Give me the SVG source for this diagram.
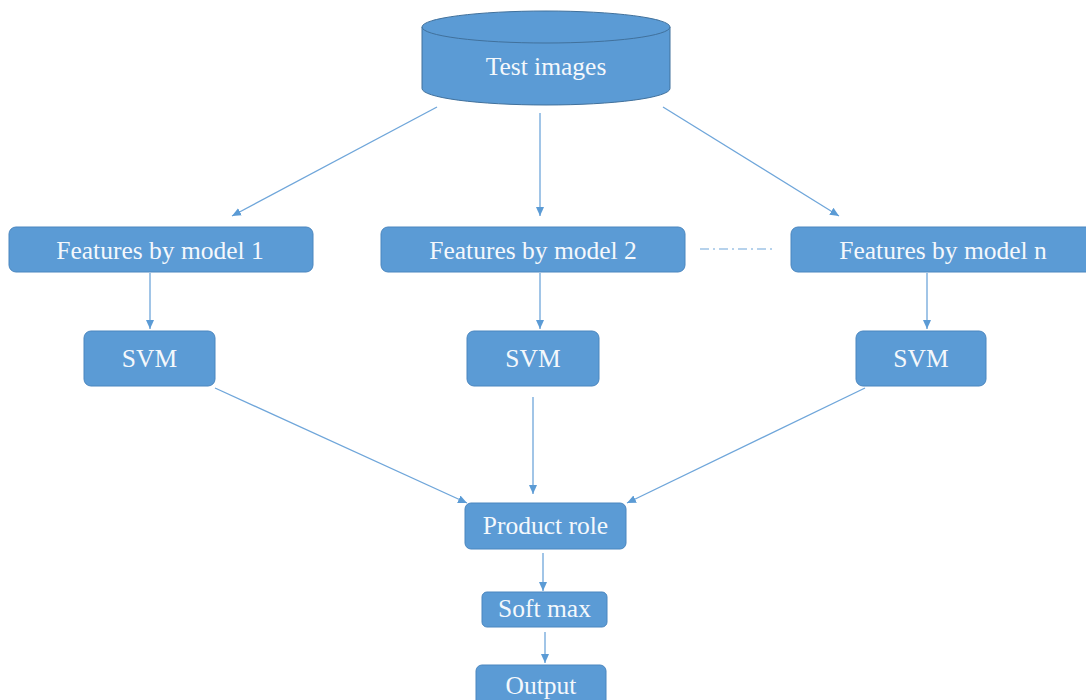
<svg xmlns="http://www.w3.org/2000/svg" width="1086" height="700" viewBox="0 0 1086 700">
  <style>
    .box { fill: #5B9BD5; stroke: #4A86BF; stroke-width: 1; }
    .cyl { fill: #5B9BD5; stroke: #41719C; stroke-width: 1; }
    .lbl { font-family: "Liberation Serif", "Times New Roman", serif; font-size: 25.5px; fill: #F4F8FC; text-anchor: middle; }
    .edge { stroke: #6FA6DA; stroke-width: 1.3; fill: none; marker-end: url(#arrow); }
    .dashdot { stroke: #6FA6DA; stroke-width: 1.2; fill: none; stroke-dasharray: 9 4 2 4; }
  </style>
  <defs>
    <marker id="arrow" markerUnits="userSpaceOnUse" markerWidth="10" markerHeight="10" viewBox="0 0 10 10" refX="9" refY="5" orient="auto">
      <path d="M0,1 L9,5 L0,9 z" fill="#5B9BD5"/>
    </marker>
  </defs>
  <rect width="1086" height="700" fill="#FFFFFF"/>

  <g id="connectors">
    <line class="edge" x1="437" y1="107" x2="232" y2="216"/>
    <line class="edge" x1="540" y1="113" x2="540" y2="216"/>
    <line class="edge" x1="663" y1="107" x2="839" y2="216"/>
    <line class="dashdot" x1="700" y1="249" x2="774" y2="249"/>
    <line class="edge" x1="150" y1="273" x2="150" y2="329"/>
    <line class="edge" x1="540" y1="273" x2="540" y2="329"/>
    <line class="edge" x1="927" y1="273" x2="927" y2="329"/>
    <line class="edge" x1="215" y1="388" x2="467" y2="503"/>
    <line class="edge" x1="533" y1="397" x2="533" y2="494"/>
    <line class="edge" x1="865" y1="388" x2="627" y2="503"/>
    <line class="edge" x1="543" y1="553" x2="543" y2="591"/>
    <line class="edge" x1="545" y1="632" x2="545" y2="663"/>
  </g>

  <g id="test-images">
    <path class="cyl" d="M422,27 L422,88.5 A124,16.5 0 0 0 670,88.5 L670,27"/>
    <ellipse class="cyl" cx="546" cy="27" rx="124" ry="16"/>
    <text class="lbl" x="546" y="75">Test images</text>
  </g>

  <g id="features-1">
    <rect class="box" x="9" y="227" width="304" height="45" rx="7"/>
    <text class="lbl" x="160" y="259">Features by model 1</text>
  </g>
  <g id="features-2">
    <rect class="box" x="381" y="227" width="304" height="45" rx="7"/>
    <text class="lbl" x="533" y="259">Features by model 2</text>
  </g>
  <g id="features-n">
    <rect class="box" x="791" y="227" width="304" height="45" rx="7"/>
    <text class="lbl" x="943" y="259">Features by model n</text>
  </g>

  <g id="svm-1">
    <rect class="box" x="84" y="331" width="131" height="55" rx="7"/>
    <text class="lbl" x="149.5" y="367">SVM</text>
  </g>
  <g id="svm-2">
    <rect class="box" x="467" y="331" width="132" height="55" rx="7"/>
    <text class="lbl" x="533" y="367">SVM</text>
  </g>
  <g id="svm-n">
    <rect class="box" x="856" y="331" width="130" height="55" rx="7"/>
    <text class="lbl" x="921" y="367">SVM</text>
  </g>

  <g id="product-role">
    <rect class="box" x="465" y="503" width="161" height="46" rx="6"/>
    <text class="lbl" x="545.5" y="534">Product role</text>
  </g>
  <g id="soft-max">
    <rect class="box" x="482" y="592" width="125" height="35" rx="5"/>
    <text class="lbl" x="544.5" y="617">Soft max</text>
  </g>
  <g id="output">
    <rect class="box" x="476" y="665" width="130" height="50" rx="6"/>
    <text class="lbl" x="541" y="694">Output</text>
  </g>
</svg>
